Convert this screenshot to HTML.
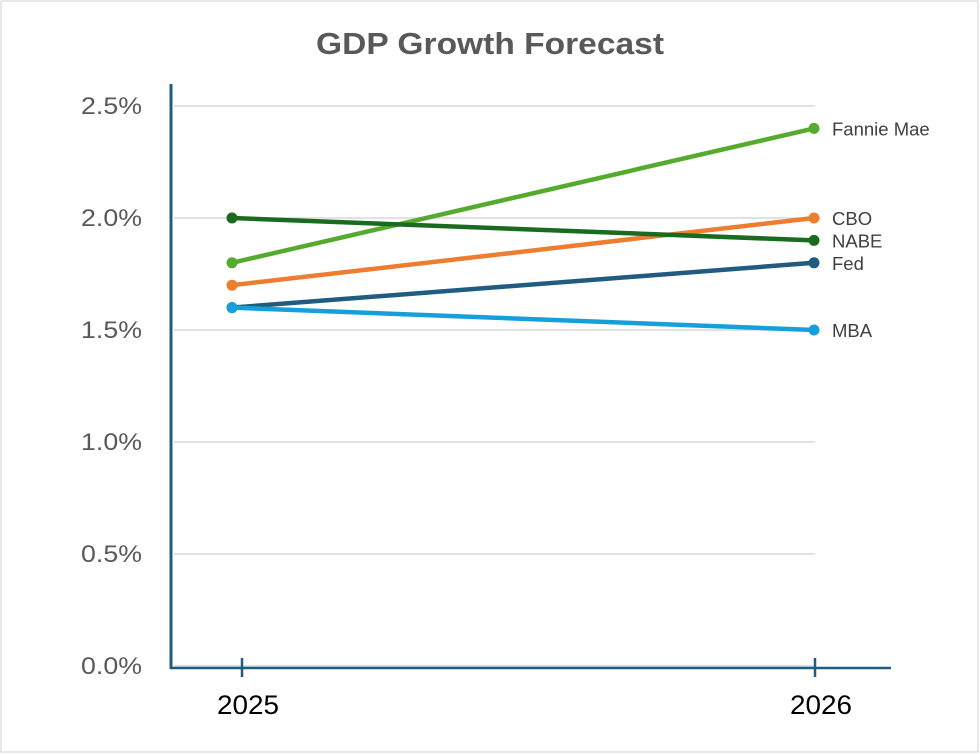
<!DOCTYPE html>
<html><head><meta charset="utf-8"><style>
html,body{margin:0;padding:0;background:#fff}
svg{display:block;font-family:"Liberation Sans",sans-serif}
</style></head><body>
<svg id="chart" width="980" height="754">
<rect x="1" y="1" width="977" height="751" fill="#fff" stroke="#d0d0d0"/>
<text x="490" y="54" text-anchor="middle" font-size="31" font-weight="bold" fill="#595959" textLength="348" lengthAdjust="spacingAndGlyphs">GDP Growth Forecast</text>
<g id="grid"></g><g id="axes"></g><g id="series"></g>
</svg>
<script>
const years = ["2025","2026"];
const yTicks = [0,0.5,1.0,1.5,2.0,2.5];
const seriesNames = ["Fed","MBA","CBO","Fannie Mae","NABE"];
const fedValues = [1.6,1.8];
const mbaValues = [1.6,1.5];
const cboValues = [1.7,2.0];
const fannieValues = [1.8,2.4];
const nabeValues = [2.0,1.9];
const colors = ["#1f5c80","#16a0db","#ed7d31","#55ab2e","#1a6b1f"];
const allValues = [fedValues,mbaValues,cboValues,fannieValues,nabeValues];
const NS="http://www.w3.org/2000/svg";
const y = v => 666 - v*224;
const x = i => 232 + i*582;
const tickX = i => 242 + i*573;
function mk(tag,attrs,parent){const e=document.createElementNS(NS,tag);for(const k in attrs)e.setAttribute(k,attrs[k]);parent.appendChild(e);return e;}
const grid=document.getElementById('grid'),axes=document.getElementById('axes'),ser=document.getElementById('series');
yTicks.forEach(t=>{
  const l=mk('line',{x1:174,x2:815,y1:y(t),y2:y(t),stroke:'#d9d9d9','stroke-width':1.5},grid);
  
  
  const tx=mk('text',{x:142,y:y(t)+8,'text-anchor':'end','font-size':24,fill:'#595959',textLength:61,lengthAdjust:'spacingAndGlyphs'},axes);
  tx.textContent=t.toFixed(1)+'%';
  
  
});
const ya=mk('line',{x1:171,x2:171,y1:84,y2:669,stroke:'#1f5c80','stroke-width':3},axes);


const xa=mk('line',{x1:170,x2:891,y1:668,y2:668,stroke:'#1f5c80','stroke-width':2.5},axes);


years.forEach((yr,i)=>{
  const tk=mk('line',{x1:tickX(i),x2:tickX(i),y1:658,y2:677,stroke:'#1f5c80','stroke-width':2.5},axes);
  
  
  const tx=mk('text',{x:tickX(i)+6,y:714,'text-anchor':'middle','font-size':27,fill:'#000',textLength:62,lengthAdjust:'spacingAndGlyphs'},axes);
  tx.textContent=yr;
  
  
});
allValues.forEach((vals,s)=>{
  const g=mk('g',{},ser);
  
  
  const ln=mk('line',{x1:x(0),y1:y(vals[0]),x2:x(1),y2:y(vals[1]),stroke:colors[s],'stroke-width':4.5},g);
  
  
  vals.forEach((v,i)=>{
    const c=mk('circle',{cx:x(i),cy:y(v),r:5.5,fill:colors[s]},g);
    
    
  });
  const lb=mk('text',{x:832,y:y(vals[1])+7,'font-size':18.5,fill:'#404040'},g);
  lb.textContent=seriesNames[s];
  
  
});
</script>
</body></html>
